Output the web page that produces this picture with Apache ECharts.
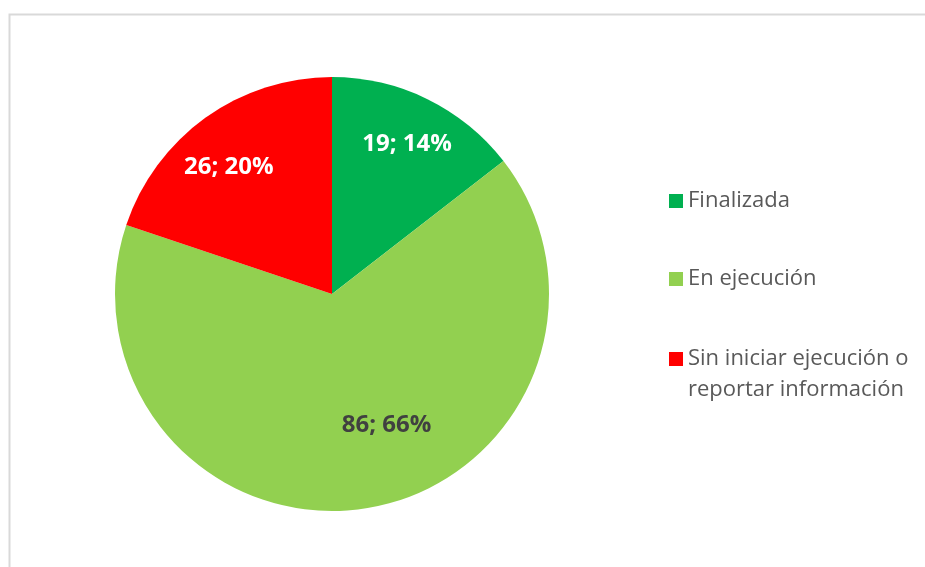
<!DOCTYPE html>
<html>
<head>
<meta charset="utf-8">
<script src="https://cdn.jsdelivr.net/npm/echarts@6/dist/echarts.min.js"></script>
<style>
	html, body { margin: 0; padding: 0; background: #fff; }
	#chart { width: 925px; height: 567px; }
</style>
</head>
<body>
<div id="chart"></div>
<script>
var categories = [ 'Finalizada', 'En ejecución', 'Sin iniciar ejecución o reportar información' ];
var values = [ 19, 86, 26 ];
var colors = [ '#00b050', '#92d050', '#ff0000' ];
var labelColors = [ '#ffffff', '#404040', '#ffffff' ];
// nudges from the default inside spot to where the labels sit
var labelOffsets = [ [ 26, -50 ], [ 36, 21 ], [ -38, -36 ] ];

(function() {
	var chart = echarts.init(document.getElementById('chart'));
	var font = '"Open Sans", "Noto Sans", sans-serif';

	var data = categories.map(function(name, i) {
		return {
			name : name,
			value : values[i],
			itemStyle : { color : colors[i] },
			label : { color : labelColors[i], offset : labelOffsets[i] }
		};
	});

	var legendTops = [ 185.5, 263.5, 312.5 ];
	var legends = categories.map(function(name, i) {
		return {
			orient : 'vertical',
			left : 669,
			top : legendTops[i],
			padding : 0,
			icon : 'rect',
			itemWidth : 14,
			itemHeight : 14,
			selectedMode : false,
			data : [ name ],
			formatter : function(n) {
				// wrapped name: empty first line keeps the marker on the first text line
				if (n.indexOf('ejecución o ') > 0) {
					return ' \n' + n.replace('ejecución o ', 'ejecución o\n');
				}
				return n;
			},
			textStyle : {
				fontFamily : font,
				fontSize : 22,
				color : '#595959',
				lineHeight : 31
			}
		};
	});

	var option = {
		animation : false,
		graphic : [ {
			type : 'rect',
			shape : { x : 9.5, y : 14.5, width : 2000, height : 2000 },
			style : { fill : 'none', stroke : '#d9d9d9', lineWidth : 2 },
			silent : true
		} ],
		legend : legends,
		series : [ {
			type : 'pie',
			center : [ 332, 294 ],
			radius : 217,
			startAngle : 90,
			clockwise : true,
			percentPrecision : 0,
			emphasis : { disabled : true },
			itemStyle : { borderWidth : 0 },
			label : {
				show : true,
				position : 'inside',
				formatter : '{c}; {d}%',
				fontFamily : font,
				fontSize : 24,
				fontWeight : 'bold'
			},
			labelLine : { show : false },
			data : data
		} ]
	};
	chart.setOption(option);
})();
</script>
</body>
</html>
